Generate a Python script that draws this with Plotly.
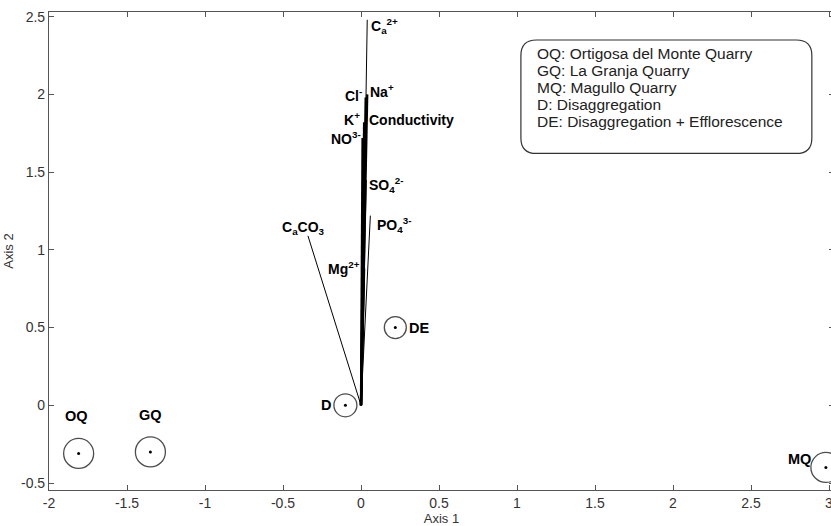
import plotly.graph_objects as go

# ---- data ----
variables = ["Ca2+", "Na+", "Cl-", "K+", "Conductivity", "NO3-", "SO4 2-", "PO4 3-", "Mg2+", "CaCO3"]
var_labels = ["C<sub>a</sub><sup>2+</sup>", "Na<sup>+</sup>", "Cl<sup>-</sup>", "K<sup>+</sup>", "Conductivity",
              "NO<sup>3-</sup>", "SO<sub>4</sub><sup>2-</sup>", "PO<sub>4</sub><sup>3-</sup>", "Mg<sup>2+</sup>",
              "C<sub>a</sub>CO<sub>3</sub>"]
var_axis1 = [0.04, 0.04, 0.03, 0.02, 0.03, 0.01, 0.03, 0.06, 0.02, -0.34]
var_axis2 = [2.48, 2.00, 1.98, 1.82, 1.80, 1.72, 1.45, 1.22, 0.88, 1.09]

samples = ["OQ", "GQ", "MQ", "D", "DE"]
sample_axis1 = [-1.81, -1.35, 2.98, -0.10, 0.22]
sample_axis2 = [-0.31, -0.30, -0.40, 0.00, 0.50]

legend_lines = ["OQ: Ortigosa del Monte Quarry", "GQ: La Granja Quarry", "MQ: Magullo Quarry",
                "D: Disaggregation", "DE: Disaggregation + Efflorescence"]

x_ticks = [-2, -1.5, -1, -0.5, 0, 0.5, 1, 1.5, 2, 2.5, 3]
y_ticks = [-0.5, 0, 0.5, 1, 1.5, 2, 2.5]

# ---- styles (separate from data) ----
thin_vars = {"Ca2+", "PO4 3-", "CaCO3"}
var_label_style = {
    "Ca2+": ("left", 2, -6),
    "Na+": ("left", 1, 3),
    "Cl-": ("right", -2, 3),
    "K+": ("right", -2, 3),
    "Conductivity": ("left", 1, 5),
    "NO3-": ("right", 0, 0),
    "SO4 2-": ("left", 1, -5),
    "PO4 3-": ("left", 5, -9),
    "Mg2+": ("right", -2, 0),
    "CaCO3": ("center", -4, 8),
}
sample_label_style = {
    "OQ": ("center", -2, 27, "bottom"),
    "GQ": ("center", 0, 27, "bottom"),
    "MQ": ("right", -13, 8, "middle"),
    "D": ("right", -12, 0, "middle"),
    "DE": ("left", 12, 0, "middle"),
}
sample_size = {"OQ": 30, "GQ": 30, "MQ": 30, "D": 23, "DE": 22}

FONT = "Liberation Sans, Arial, Helvetica, sans-serif"

fig = go.Figure()

for name, x, y in zip(variables, var_axis1, var_axis2):
    fig.add_trace(go.Scatter(
        x=[0, x], y=[0, y], mode="lines",
        line=dict(color="black", width=1.0 if name in thin_vars else 2.3),
        showlegend=False, hoverinfo="skip"))

fig.add_trace(go.Scatter(
    x=sample_axis1, y=sample_axis2, mode="markers",
    marker=dict(symbol="circle-open", size=[sample_size[s] for s in samples],
                color="black", line=dict(width=1.3, color="black")),
    showlegend=False, hoverinfo="skip"))
fig.add_trace(go.Scatter(
    x=sample_axis1, y=sample_axis2, mode="markers",
    marker=dict(symbol="circle", size=3, color="black"),
    showlegend=False, hoverinfo="skip"))

annotations = []
for name, lab, x, y in zip(variables, var_labels, var_axis1, var_axis2):
    xa, xs, ys = var_label_style[name]
    annotations.append(dict(x=x, y=y, text=lab, showarrow=False, xanchor=xa, yanchor="middle",
                            xshift=xs, yshift=ys,
                            font=dict(family=FONT, size=14, color="black", weight="bold")))
for s, x, y in zip(samples, sample_axis1, sample_axis2):
    xa, xs, ys, ya = sample_label_style[s]
    annotations.append(dict(x=x, y=y, text=s, showarrow=False, xanchor=xa, yanchor=ya,
                            xshift=xs, yshift=ys,
                            font=dict(family=FONT, size=14.5, color="black", weight="bold")))

# legend box
bx0, bx1, by0, by1 = 1.025, 2.89, 1.62, 2.35
rx, ry = 0.1, 0.1
path = (f"M {bx0+rx},{by1} L {bx1-rx},{by1} Q {bx1},{by1} {bx1},{by1-ry} "
        f"L {bx1},{by0+ry} Q {bx1},{by0} {bx1-rx},{by0} L {bx0+rx},{by0} "
        f"Q {bx0},{by0} {bx0},{by0+ry} L {bx0},{by1-ry} Q {bx0},{by1} {bx0+rx},{by1} Z")
fig.add_shape(type="path", path=path, xref="x", yref="y",
              line=dict(color="#333", width=1.2), fillcolor="white", layer="above")
for i, line in enumerate(legend_lines):
    annotations.append(dict(x=bx0, y=by1, xref="x", yref="y", text=line, showarrow=False,
                            xanchor="left", yanchor="middle", xshift=14, yshift=-14 - 16.9 * i,
                            font=dict(family=FONT, size=15.5, color="#222")))

fig.update_layout(
    width=834, height=526,
    margin=dict(l=49, r=0, t=12, b=36),
    paper_bgcolor="white", plot_bgcolor="white",
    annotations=annotations,
    font=dict(family=FONT, color="#333"),
)
axis_common = dict(showgrid=False, zeroline=False, showline=True, linecolor="#555", linewidth=1.2,
                   mirror="ticks", ticks="inside", ticklen=5, tickcolor="#555", automargin=False,
                   tickfont=dict(family=FONT, size=14, color="#333"))
fig.update_xaxes(range=[-2, 3.032], tickvals=x_ticks, ticktext=[f"{v:g}" for v in x_ticks],
                 title=dict(text="Axis 1", standoff=0, font=dict(family=FONT, size=13, color="#333")),
                 **axis_common)
fig.update_yaxes(range=[-0.545, 2.53], tickvals=y_ticks, ticktext=[f"{v:g}" for v in y_ticks],
                 title=dict(text="Axis 2", standoff=4, font=dict(family=FONT, size=13, color="#333")),
                 **axis_common)

fig.write_html("out.html", config={"displayModeBar": False},
               post_script="document.body.style.margin='0';document.body.style.padding='0';"
                           "document.body.style.overflow='hidden';"
                           "document.documentElement.style.overflow='hidden';")
